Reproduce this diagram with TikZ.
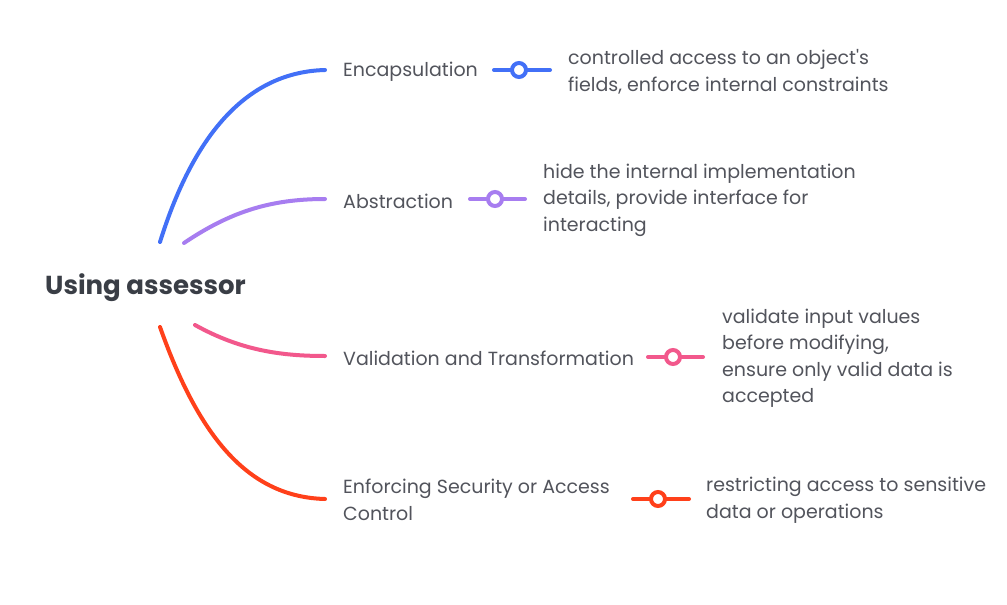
\documentclass[tikz,border=0pt]{standalone}
\usepackage{fontspec}
\setmainfont{Poppins}[Ligatures=TeXOff]
\begin{document}
\begin{tikzpicture}[x=1pt,y=-1pt,
  branch/.style={line width=4pt,line cap=round},
  label/.style={anchor=west,inner sep=0pt,text=textgray,font=\fontsize{19}{26.5}\selectfont,align=left},
  note/.style={anchor=west,inner sep=0pt,text=textgray,font=\fontsize{19}{26.5}\selectfont,align=left},
  knob/.style={circle,line width=4pt,fill=white,minimum size=14pt,inner sep=0pt}]
\definecolor{textgray}{RGB}{82,84,92}
\definecolor{titlegray}{RGB}{58,62,70}
\definecolor{cblue}{RGB}{66,112,247}
\definecolor{cpurple}{RGB}{167,125,240}
\definecolor{cpink}{RGB}{242,88,140}
\definecolor{cred}{RGB}{255,64,26}
\useasboundingbox (0,0) rectangle (1007,605);
\fill[white] (0,0) rectangle (1007,605);

% root
\node[anchor=west,inner sep=0pt,text=titlegray,font=\fontsize{26}{30}\selectfont\bfseries] (root) at (45,288) {Using assessor};
\coordinate (sA) at (160,242);
\coordinate (sB) at (184,243);
\coordinate (sC) at (195,325);
\coordinate (sD) at (160,327);

% branch labels
\node[label] (enc) at (343,72) {Encapsulation};
\node[label] (abs) at (343,201) {Abstraction};
\node[label] (val) at (343,358) {Validation and Transformation};
\node[label] (sec) at (343,500) {Enforcing Security or Access\\Control};

% branches
\draw[branch,cblue] (sA) .. controls (195,130) and (250,72) .. (325,70) coordinate (eA);
\draw[branch,cpurple] (sB) .. controls (230,212) and (270,199) .. (325,199) coordinate (eB);
\draw[branch,cpink] (sC) .. controls (240,350) and (280,356) .. (325,356) coordinate (eC);
\draw[branch,cred] (sD) .. controls (200,440) and (250,497) .. (325,499) coordinate (eD);

% connectors with knobs
\coordinate (a1) at (494,70); \coordinate (a2) at (550,70);
\coordinate (b1) at (470,199); \coordinate (b2) at (525,199);
\coordinate (c1) at (648,357); \coordinate (c2) at (703,357);
\coordinate (d1) at (633,499); \coordinate (d2) at (689,499);
\draw[branch,cblue] (a1) -- (a2);
\draw[branch,cpurple] (b1) -- (b2);
\draw[branch,cpink] (c1) -- (c2);
\draw[branch,cred] (d1) -- (d2);
\node[knob,draw=cblue] (ka) at (519,70) {};
\node[knob,draw=cpurple] (kb) at (495,199) {};
\node[knob,draw=cpink] (kc) at (673,357) {};
\node[knob,draw=cred] (kd) at (658,499) {};

% notes
\node[note] (na) at (568,72) {controlled access to an object's\\fields, enforce internal constraints};
\node[note] (nb) at (543,200) {hide the internal implementation\\details, provide interface for\\interacting};
\node[note] (nc) at (722,358) {validate input values\\before modifying,\\ensure only valid data is\\accepted};
\node[note] (nd) at (706,500) {restricting access to sensitive\\data or operations};
\end{tikzpicture}
\end{document}
